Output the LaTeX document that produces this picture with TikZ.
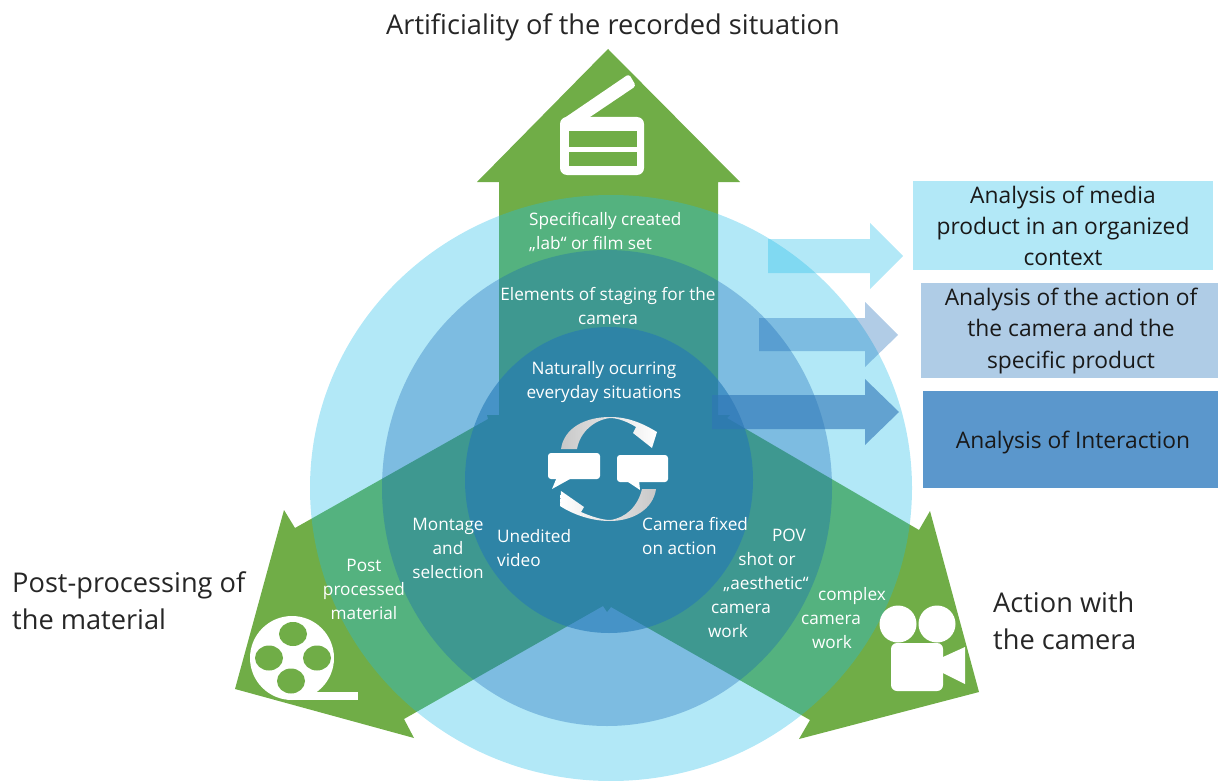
\documentclass[tikz,border=0pt]{standalone}
\usepackage{fontspec}
\setmainfont{Open Sans}
\usetikzlibrary{positioning}
\definecolor{arrowgreen}{HTML}{70AD47}
\definecolor{ringlight}{RGB}{34,189,232}
\definecolor{ringmid}{RGB}{18,100,179}
\definecolor{ringdark}{RGB}{36,120,182}
\definecolor{arrowdark}{HTML}{2E75B6}
\definecolor{boxlight}{HTML}{B2E8F7}
\definecolor{boxmid}{HTML}{AFCCE6}
\definecolor{boxdark}{HTML}{5B97CC}
\definecolor{swirl}{HTML}{C8C8C8}
\tikzset{
	ringtext/.style={text=white,font=\fontsize{17.2}{24}\selectfont,align=center,inner sep=0pt},
	headtext/.style={text=black!85,font=\fontsize{27.2}{37}\selectfont,align=left,inner sep=0pt},
	boxtext/.style={text=black!90,font=\fontsize{22.8}{31.3}\selectfont,align=center,inner sep=0pt},
	icon/.style={fill=white,draw=none}
}
\begin{document}
\begin{tikzpicture}[x=1pt,y=-1pt]
\useasboundingbox (0,0) rectangle (1218,781);
% three arrows
\fill[arrowgreen] (608,49) -- (740,182) -- (718,182) -- (718,415) -- (730,415) -- (727,418) -- (919,530) -- (930,511)
	-- (979,692) -- (799,739) -- (810,720) -- (611,607) -- (607,612) -- (603,606) -- (404,719) -- (414,738)
	-- (235,689) -- (284,510) -- (295,528) -- (488,419) -- (487,415) -- (499,415) -- (499,182) -- (477,182) -- cycle;
% rings
\fill[ringlight,opacity=.35] (611,488) ellipse (301 and 293);
\fill[ringmid,opacity=.33] (607,488) ellipse (225 and 238);
\fill[ringdark,opacity=.6] (609,480) ellipse (144 and 153);
% block arrows
\fill[ringlight,opacity=.35] (768,239) -- (870,239) -- (870,223) -- (903,256) -- (870,289) -- (870,273) -- (768,273) -- cycle;
\fill[ringmid,opacity=.33] (759,318) -- (865,318) -- (865,302) -- (898,335) -- (865,367) -- (865,351) -- (759,351) -- cycle;
\fill[arrowdark,opacity=.6] (712,395) -- (865,395) -- (865,379) -- (899,412) -- (865,445) -- (865,429) -- (712,429) -- cycle;
% clapperboard
\fill[icon,rounded corners=7pt] (560,175) -- (560,117) -- (644,117) -- (644,175) -- cycle;
\fill[icon,rounded corners=3pt] (560,121) -- (629,74) -- (636,86) -- (587,119) -- cycle;
\fill[arrowgreen] (569,131) rectangle (637,147);
\fill[arrowgreen] (569,152) rectangle (637,166);
% film reel
\fill[icon] (292,658) circle (42);
\fill[icon] (292,692) rectangle (358,700);
\fill[arrowgreen] (293,634) ellipse (14 and 12);
\fill[arrowgreen] (269,658) ellipse (14 and 12.5);
\fill[arrowgreen] (317,658) ellipse (14 and 12.5);
\fill[arrowgreen] (291,681) ellipse (14 and 12.5);
% camera
\fill[icon] (898,624) circle (18.5);
\fill[icon] (937,624) circle (18.5);
\fill[icon,rounded corners=6pt] (891,643) rectangle (943,691);
\fill[icon] (943,657) -- (965,647) -- (965,684) -- (943,673) -- cycle;
% swirl
\shade[left color=swirl,middle color=white,right color=white] (561,449) .. controls (564,428) and (585,417) .. (610,417)
	.. controls (628,417) and (642,423) .. (657,432) -- (652,448) -- (633,433) -- (636,427)
	.. controls (628,422) and (618,418) .. (610,418) .. controls (594,420) and (580,432) .. (577,449) -- cycle;
\shade[right color=swirl,middle color=white,left color=white] (656,489) .. controls (653,510) and (632,521) .. (610,521)
	.. controls (592,521) and (574,515) .. (560,506) -- (561,491) -- (584,507) -- (581,512)
	.. controls (590,516) and (602,520) .. (610,520) .. controls (626,518) and (638,506) .. (642,489) -- cycle;
% speech bubbles
\fill[icon,rounded corners=3pt] (548,453) rectangle (600,479);
\fill[icon] (557,477) -- (552,489) -- (570,479) -- cycle;
\fill[icon,rounded corners=3pt] (617,455) rectangle (668,482);
\fill[icon] (625,480) -- (640,490) -- (639,480) -- cycle;
% headings
\node[headtext] (artificiality) at (613,27) {Artificiality of the recorded situation};
\node[headtext,anchor=west] (postprocessing) at (12,601) {Post-processing of\\the material};
\node[headtext,anchor=west] (action) at (993,621) {Action with\\the camera};
% boxes
\node[fill=boxlight,minimum width=300pt,minimum height=89pt,inner sep=0pt] (mediabox) at (1063,225.5) {};
\node[boxtext] (media) at (1063,226) {Analysis of media\\product in an organized\\context};
\node[fill=boxmid,minimum width=297pt,minimum height=95pt,inner sep=0pt] (camerabox) at (1069.5,330.5) {};
\node[boxtext] (camera) at (1071,331) {Analysis of the action of\\the camera and the\\specific product};
\node[fill=boxdark,minimum width=295pt,minimum height=97pt,inner sep=0pt] (interactionbox) at (1070.5,439.5) {};
\node[boxtext] (interaction) at (1073,443) {Analysis of Interaction};
% ring labels
\node[ringtext,align=left,anchor=west] (lab) at (529,232) {Specifically created\\„lab“ or film set};
\node[ringtext] (staging) at (608,306) {Elements of staging for the\\camera};
\node[ringtext] (everyday) at (604,382) {Naturally ocurring\\everyday situations};
\node[ringtext] (montage) at (448,548) {Montage\\and\\selection};
\node[ringtext] (post) at (364,589) {Post\\processed\\material};
\node[ringtext,align=left,anchor=west] (unedited) at (497,548) {Unedited\\video};
\node[ringtext,align=left,anchor=west] (fixed) at (642,536) {Camera fixed\\on action};
\node[ringtext,anchor=base] (pov) at (789,541) {POV};
\node[ringtext,anchor=base] (shotor) at (767,565) {shot or};
\node[ringtext,anchor=base] (aesthetic) at (766,589) {„aesthetic“};
\node[ringtext,anchor=base] (povcamera) at (741,613) {camera};
\node[ringtext,anchor=base] (povwork) at (728,637) {work};
\node[ringtext,anchor=base] (complex) at (852,600) {complex};
\node[ringtext,anchor=base] (complexcamera) at (831,624) {camera};
\node[ringtext,anchor=base] (complexwork) at (832,648) {work};
\end{tikzpicture}
\end{document}
